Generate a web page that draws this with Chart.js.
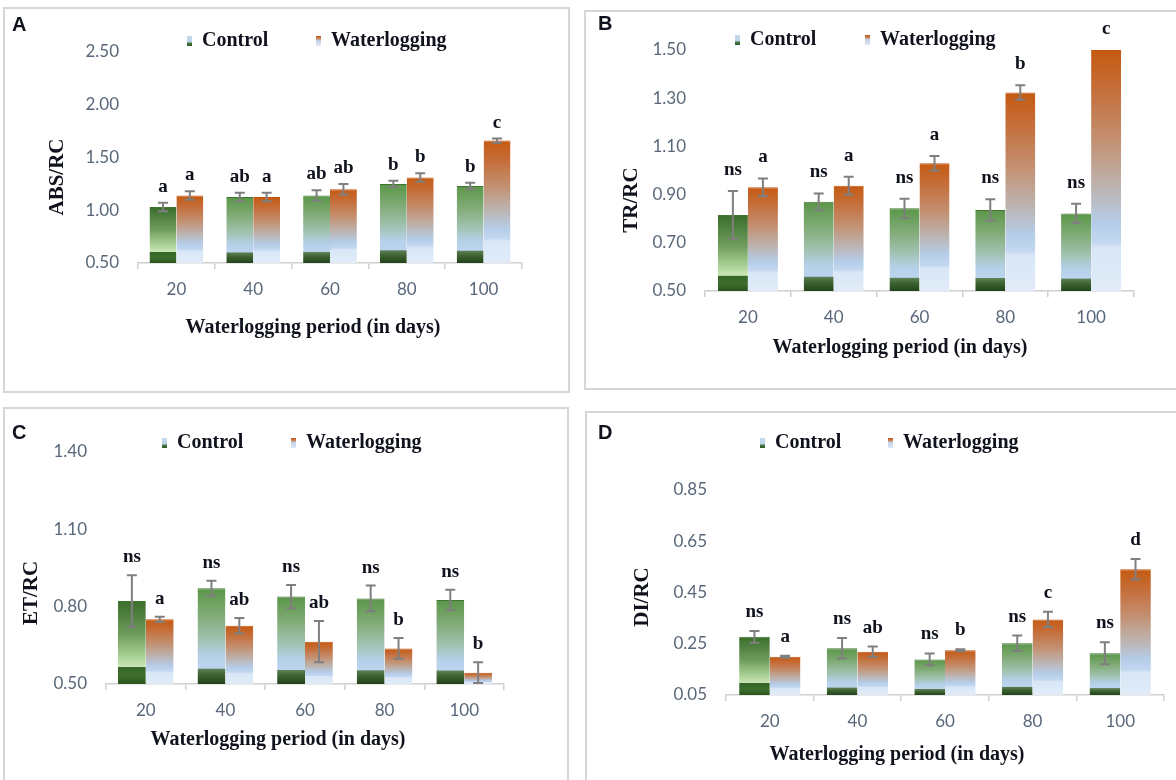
<!DOCTYPE html>
<html>
<head>
<meta charset="utf-8">
<script src="https://cdn.jsdelivr.net/npm/chart.js@4.4.0/dist/chart.umd.min.js"></script>
<style>
    html, body { margin: 0; padding: 0; background: #fff; overflow: hidden; }
    body { width: 1176px; height: 780px; position: relative; }
    .panel { position: absolute; }
    .panel canvas { position: absolute; left: 0; top: 0; }
    .frame { position: absolute; left: 0; top: 0; right: 0; bottom: 0;
             border: 2px solid #d6d6d6; box-sizing: border-box; pointer-events: none; }
</style>
</head>
<body>
<div class="panel" style="left:3px;top:7px;width:567px;height:386px">
    <canvas id="chartA" width="567" height="386"></canvas><div class="frame"></div>
</div>
<div class="panel" style="left:584px;top:10px;width:620px;height:380px">
    <canvas id="chartB" width="592" height="380"></canvas><div class="frame"></div>
</div>
<div class="panel" style="left:3px;top:407px;width:566px;height:400px">
    <canvas id="chartC" width="566" height="373"></canvas><div class="frame"></div>
</div>
<div class="panel" style="left:585px;top:411px;width:620px;height:400px">
    <canvas id="chartD" width="591" height="369"></canvas><div class="frame"></div>
</div>

<script>
/* ------------------------------- Data -------------------------------*/

const DAYS = ['20', '40', '60', '80', '100'];

const ABS_CONTROL     = [1.03, 1.125, 1.14, 1.25, 1.23];
const ABS_CONTROL_ERR = [0.04, 0.04, 0.05, 0.03, 0.03];
const ABS_WATER       = [1.14, 1.125, 1.20, 1.31, 1.66];
const ABS_WATER_ERR   = [0.04, 0.04, 0.05, 0.04, 0.02];
const ABS_CONTROL_SIG = ['a', 'ab', 'ab', 'b', 'b'];
const ABS_WATER_SIG   = ['a', 'a', 'ab', 'b', 'c'];
const ABS_TICKS       = [0.50, 1.00, 1.50, 2.00, 2.50];

const TR_CONTROL      = [0.815, 0.87, 0.843, 0.836, 0.822];
const TR_CONTROL_ERR  = [0.10, 0.035, 0.04, 0.045, 0.04];
const TR_WATER        = [0.93, 0.937, 1.03, 1.324, 1.50];
const TR_WATER_ERR    = [0.037, 0.037, 0.03, 0.03, 0];
const TR_CONTROL_SIG  = ['ns', 'ns', 'ns', 'ns', 'ns'];
const TR_WATER_SIG    = ['a', 'a', 'a', 'b', 'c'];
const TR_TICKS        = [0.50, 0.70, 0.90, 1.10, 1.30, 1.50];

const ET_CONTROL      = [0.822, 0.871, 0.839, 0.832, 0.826];
const ET_CONTROL_ERR  = [0.10, 0.03, 0.045, 0.05, 0.04];
const ET_WATER        = [0.751, 0.726, 0.664, 0.638, 0.544];
const ET_WATER_ERR    = [0.01, 0.03, 0.08, 0.04, 0.04];
const ET_CONTROL_SIG  = ['ns', 'ns', 'ns', 'ns', 'ns'];
const ET_WATER_SIG    = ['a', 'ab', 'ab', 'b', 'b'];
const ET_TICKS        = [0.50, 0.80, 1.10, 1.40];

const DI_CONTROL      = [0.277, 0.232, 0.189, 0.252, 0.213];
const DI_CONTROL_ERR  = [0.023, 0.04, 0.023, 0.03, 0.043];
const DI_WATER        = [0.199, 0.219, 0.225, 0.345, 0.541];
const DI_WATER_ERR    = [0.004, 0.02, 0.004, 0.03, 0.04];
const DI_CONTROL_SIG  = ['ns', 'ns', 'ns', 'ns', 'ns'];
const DI_WATER_SIG    = ['a', 'ab', 'b', 'c', 'd'];
const DI_TICKS        = [0.05, 0.25, 0.45, 0.65, 0.85];

/* ------------------------------- Styles -------------------------------*/

const TEXT_COLOR = '#10131d';
const TICK_COLOR = '#59677a';
const AXIS_GRAY = '#d0d0d0';
const SERIF = '"Liberation Serif", "Times New Roman", serif';
const SANS = 'Lato, "Open Sans", sans-serif';

function barGradient(ctx, stops) {
    const chart = ctx.chart;
    const y = chart.scales.y;
    const top = y.getPixelForValue(ctx.raw);
    const bottom = y.getPixelForValue(y.min);
    const g = chart.ctx.createLinearGradient(0, top, 0, bottom);
    stops.forEach(s => g.addColorStop(s[0], s[1]));
    return g;
}

function controlFill(ctx) {                         // зелений -> блакитний, темна смуга внизу
    if (!ctx.chart.chartArea || typeof ctx.raw !== 'number') return '#5b9a4b';
    if (ctx.dataIndex === 0)
        return barGradient(ctx, [[0, '#3a6c2a'], [0.4, '#6e9c5d'], [0.68, '#acd398'],
            [0.795, '#cbe6b8'], [0.8, '#356527'], [0.9, '#3d6e2e'], [1, '#2a551d']]);
    return barGradient(ctx, [[0, '#5a9648'], [0.3, '#83ad7a'], [0.55, '#a3c3b4'],
        [0.72, '#b6d0ea'], [0.835, '#bcd5ee'], [0.845, '#5f7f57'], [0.9, '#3f6533'], [1, '#22431a']]);
}

function waterFill(ctx) {                           // помаранчевий -> світло-блакитний
    if (!ctx.chart.chartArea || typeof ctx.raw !== 'number') return '#c55a11';
    return barGradient(ctx, [[0, '#c55a11'], [0.15, '#c56c36'], [0.38, '#c39173'],
        [0.56, '#bdb2ad'], [0.72, '#b5cde9'], [0.8, '#c3d8f0'], [0.82, '#d8e6f6'], [1, '#e1ecf8']]);
}

function makeKey(stops) {                           // маленький маркер легенди
    const c = document.createElement('canvas');
    c.width = 5; c.height = 10;
    const k = c.getContext('2d');
    const g = k.createLinearGradient(0, 0, 0, 10);
    stops.forEach(s => g.addColorStop(s[0], s[1]));
    k.fillStyle = g;
    k.fillRect(0, 0, 5, 10);
    return c;
}

const LEGEND_KEYS = [
    makeKey([[0, '#c4d8ee'], [0.6, '#bcd3ea'], [0.7, '#4d7a45'], [1, '#2e5522']]),
    makeKey([[0, '#c0540f'], [0.25, '#c8845a'], [0.45, '#c0cfe2'], [1, '#dfeaf7']])
];

/* ------------------------------- Plugin -------------------------------*/

const panelDecor = {
    id: 'panelDecor',
    afterDatasetsDraw(chart, args, opts) {                       // похибки та літери
        const ctx = chart.ctx;
        const y = chart.scales.y;
        ctx.save();
        chart.data.datasets.forEach((ds, di) => {
            chart.getDatasetMeta(di).data.forEach((bar, i) => {
                const v = ds.data[i], e = ds.errors[i];
                const top = y.getPixelForValue(v + e);
                if (e > 0) {
                    const bot = y.getPixelForValue(v - e);
                    ctx.strokeStyle = '#7f7f7f';
                    ctx.lineWidth = 2;
                    ctx.beginPath();
                    ctx.moveTo(bar.x, top); ctx.lineTo(bar.x, bot);
                    ctx.moveTo(bar.x - 5, top); ctx.lineTo(bar.x + 5, top);
                    ctx.moveTo(bar.x - 5, bot); ctx.lineTo(bar.x + 5, bot);
                    ctx.stroke();
                }
                ctx.fillStyle = TEXT_COLOR;
                ctx.font = 'bold 19px ' + SERIF;
                ctx.textAlign = 'center';
                ctx.textBaseline = 'alphabetic';
                ctx.fillText(ds.letters[i], bar.x, top - opts.letterGap);
            });
        });
        ctx.restore();
    },
    afterDraw(chart, args, opts) {                               // легенда, підписи осей, літера панелі
        const ctx = chart.ctx;
        const ox = opts.origin[0], oy = opts.origin[1];
        ctx.save();
        ctx.fillStyle = TEXT_COLOR;

        ctx.font = 'bold 20px "Liberation Sans", Arial, sans-serif';
        ctx.textAlign = 'left';
        ctx.textBaseline = 'middle';
        ctx.fillText(opts.tag, opts.tagPos[0] - ox, opts.tagPos[1] - oy);

        ctx.font = 'bold 20px ' + SERIF;
        chart.data.datasets.forEach((ds, i) => {
            const x = opts.legendX[i] - ox, ly = opts.legendY - oy;
            ctx.drawImage(LEGEND_KEYS[i], x - 15, ly - 5);
            ctx.fillText(ds.label, x, ly);
        });

        ctx.textAlign = 'center';
        ctx.fillText(opts.xTitle, opts.xTitlePos[0] - ox, opts.xTitlePos[1] - oy);

        ctx.font = 'bold 21px ' + SERIF;
        ctx.translate(opts.yTitlePos[0] - ox, opts.yTitlePos[1] - oy);
        ctx.rotate(-Math.PI / 2);
        ctx.fillText(opts.yTitle, 0, 0);
        ctx.restore();
    }
};

/* ------------------------------- Charts -------------------------------*/

function makePanel(p) {
    const ox = p.origin[0], oy = p.origin[1];
    const canvas = document.getElementById(p.canvas);
    const cw = canvas.width, ch = canvas.height;
    const L = p.plot[0], T = p.plot[1], R = p.plot[2], B = p.plot[3];

    return new Chart(canvas, {
        type: 'bar',
        data: {
            labels: DAYS,
            datasets: [{
                label: 'Control',
                data: p.control,
                errors: p.controlErr,
                letters: p.controlSig,
                backgroundColor: controlFill,
                borderColor: '#3f7530',
                borderWidth: { top: 1, left: 0, right: 0, bottom: 0 }
            }, {
                label: 'Waterlogging',
                data: p.water,
                errors: p.waterErr,
                letters: p.waterSig,
                backgroundColor: waterFill,
                borderColor: '#c0540f',
                borderWidth: { top: 1, left: 0, right: 0, bottom: 0 }
            }]
        },
        options: {
            responsive: false,
            animation: false,
            events: [],
            devicePixelRatio: 1,
            layout: { padding: { left: 0, top: T - oy, right: cw - (R - ox), bottom: 0 } },
            datasets: { bar: { categoryPercentage: 0.7, barPercentage: 1.0 } },
            scales: {
                x: {
                    grid: { offset: true, drawOnChartArea: false, drawTicks: true,
                            tickLength: 6, color: AXIS_GRAY, lineWidth: 1.5 },
                    border: { color: AXIS_GRAY, width: 1.5 },
                    ticks: { padding: 10, color: TICK_COLOR, font: { family: SANS, size: 17 } },
                    afterFit: s => { s.height = ch - (B - oy); }
                },
                y: {
                    min: p.ticks[0],
                    max: p.ticks[p.ticks.length - 1],
                    grid: { display: false, drawTicks: false },
                    border: { display: false },
                    ticks: { padding: 19, color: TICK_COLOR, font: { family: SANS, size: 17 },
                             callback: v => v.toFixed(2) },
                    afterBuildTicks: s => { s.ticks = p.ticks.map(v => ({ value: v })); },
                    afterFit: s => { s.width = L - ox; }
                }
            },
            plugins: {
                legend: { display: false },
                tooltip: { enabled: false },
                panelDecor: {
                    origin: p.origin,
                    tag: p.tag, tagPos: p.tagPos,
                    legendX: p.legendX, legendY: p.legendY,
                    xTitle: 'Waterlogging period (in days)', xTitlePos: p.xTitlePos,
                    yTitle: p.yTitle, yTitlePos: p.yTitlePos,
                    letterGap: p.letterGap
                }
            }
        },
        plugins: [panelDecor]
    });
}

makePanel({
    canvas: 'chartA', origin: [3, 7], plot: [138, 52, 522, 263],
    control: ABS_CONTROL, controlErr: ABS_CONTROL_ERR, controlSig: ABS_CONTROL_SIG,
    water: ABS_WATER, waterErr: ABS_WATER_ERR, waterSig: ABS_WATER_SIG, ticks: ABS_TICKS,
    tag: 'A', tagPos: [12, 25], legendX: [202, 331], legendY: 41,
    xTitlePos: [313, 328], yTitle: 'ABS/RC', yTitlePos: [58, 177], letterGap: 11
});

makePanel({
    canvas: 'chartB', origin: [584, 10], plot: [705, 50, 1134, 291],
    control: TR_CONTROL, controlErr: TR_CONTROL_ERR, controlSig: TR_CONTROL_SIG,
    water: TR_WATER, waterErr: TR_WATER_ERR, waterSig: TR_WATER_SIG, ticks: TR_TICKS,
    tag: 'B', tagPos: [598, 24], legendX: [750, 880], legendY: 40,
    xTitlePos: [900, 348], yTitle: 'TR/RC', yTitlePos: [632, 200], letterGap: 16
});

makePanel({
    canvas: 'chartC', origin: [3, 407], plot: [106, 452, 504, 684],
    control: ET_CONTROL, controlErr: ET_CONTROL_ERR, controlSig: ET_CONTROL_SIG,
    water: ET_WATER, waterErr: ET_WATER_ERR, waterSig: ET_WATER_SIG, ticks: ET_TICKS,
    tag: 'C', tagPos: [12, 433], legendX: [177, 306], legendY: 443,
    xTitlePos: [278, 740], yTitle: 'ET/RC', yTitlePos: [32, 593], letterGap: 13
});

makePanel({
    canvas: 'chartD', origin: [585, 411], plot: [726, 490, 1164, 695],
    control: DI_CONTROL, controlErr: DI_CONTROL_ERR, controlSig: DI_CONTROL_SIG,
    water: DI_WATER, waterErr: DI_WATER_ERR, waterSig: DI_WATER_SIG, ticks: DI_TICKS,
    tag: 'D', tagPos: [598, 433], legendX: [775, 903], legendY: 443,
    xTitlePos: [897, 755], yTitle: 'DI/RC', yTitlePos: [643, 597], letterGap: 14
});
</script>
</body>
</html>
